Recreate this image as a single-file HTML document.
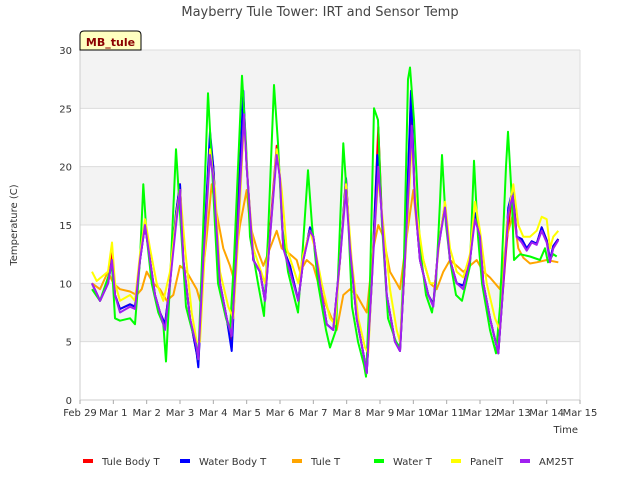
<!DOCTYPE html>
<html><head><meta charset="utf-8"><style>
body{margin:0;background:#fff;}
svg{display:block;font-family:"DejaVu Sans","Liberation Sans",sans-serif;}
</style></head><body>
<svg id="chart" width="640" height="480" viewBox="0 0 640 480" xmlns="http://www.w3.org/2000/svg">
<rect x="0" y="0" width="640" height="480" fill="#fff"/>
<g id="bands"></g>
<g id="grid"></g>
<g id="series"></g>
<g id="axes"></g>
<text x="320" y="16" text-anchor="middle" font-size="13" fill="#444">Mayberry Tule Tower: IRT and Sensor Temp</text>
<text transform="translate(17,225) rotate(-90)" text-anchor="middle" font-size="10" fill="#333">Temperature (C)</text>
<text x="578" y="433" text-anchor="end" font-size="10" fill="#333">Time</text>
<g>
<path d="M80,50 L80,35 Q80,31 84,31 L137,31 Q141,31 141,35 L141,50 Z" fill="#ffffc0" stroke="#000" stroke-width="1"/>
<text x="110.5" y="46" text-anchor="middle" font-size="11" font-weight="bold" fill="#8b0000">MB_tule</text>
</g>
<g id="legend"></g>
</svg>
<script>
const xTicks=["Feb 29","Mar 1","Mar 2","Mar 3","Mar 4","Mar 5","Mar 6","Mar 7","Mar 8","Mar 9","Mar 10","Mar 11","Mar 12","Mar 13","Mar 14","Mar 15"];
const yTicks=[0,5,10,15,20,25,30];
const seriesNames=["Tule Body T","Water Body T","Tule T","Water T","PanelT","AM25T"];
const seriesColors=["#ff0000","#0000ff","#ffa500","#00ff00","#ffff00","#a020f0"];
const waterT=[[0.36,9.5],[0.6,8.5],[0.84,10.5],[0.96,11.5],[1.05,7],[1.2,6.8],[1.5,7],[1.65,6.5],[1.8,12],[1.9,18.5],[2.0,14],[2.15,10],[2.35,7.5],[2.5,6.5],[2.58,3.3],[2.7,10],[2.88,21.5],[3.0,16],[3.18,8],[3.36,6],[3.48,5],[3.55,3.5],[3.66,12],[3.84,26.3],[3.96,20],[4.14,10],[4.38,7],[4.5,6],[4.62,12],[4.86,27.8],[4.98,22],[5.1,14],[5.34,10],[5.52,7.2],[5.64,14],[5.82,27],[5.94,22],[6.06,15],[6.24,11],[6.54,7.5],[6.66,12],[6.84,19.7],[6.96,15],[7.14,10],[7.38,6],[7.5,4.5],[7.68,6],[7.8,15],[7.9,22],[8.04,16],[8.16,8],[8.34,5],[8.52,3],[8.58,2],[8.7,10],[8.82,25],[8.94,24],[9.06,15],[9.24,7],[9.48,5],[9.6,4.5],[9.72,12],[9.84,27.5],[9.9,28.5],[10.02,24],[10.2,13],[10.38,9],[10.56,7.5],[10.68,10],[10.8,17],[10.86,21],[10.98,15],[11.1,12],[11.28,9],[11.46,8.5],[11.7,11.5],[11.82,20.5],[11.94,14],[12.06,10],[12.3,6],[12.48,4],[12.6,8],[12.78,20],[12.84,23],[12.96,17],[13.02,12],[13.2,12.5],[13.5,12.3],[13.8,12],[13.95,13],[14.04,11.8],[14.2,12.5],[14.3,12.3]];
const am25T=[[0.36,10],[0.6,8.5],[0.84,10],[0.96,12],[1.05,9],[1.2,7.5],[1.5,8],[1.65,7.8],[1.8,12],[1.95,15],[2.1,12],[2.25,9],[2.4,7.5],[2.55,6],[2.7,10],[2.88,15],[3.0,18],[3.1,12],[3.3,7],[3.5,4.5],[3.55,3.5],[3.7,12],[3.9,21],[4.0,19],[4.2,10],[4.4,7],[4.55,5.5],[4.7,13],[4.92,24.5],[5.0,20],[5.2,12],[5.4,11],[5.55,8.5],[5.7,14],[5.9,21],[6.0,19],[6.1,13],[6.3,11],[6.55,8.5],[6.7,12],[6.9,14.5],[7.0,14],[7.2,10],[7.4,6.5],[7.6,6],[7.8,12],[7.98,18],[8.1,13],[8.3,7],[8.5,4],[8.6,2.3],[8.75,10],[8.95,20],[9.05,16],[9.2,9],[9.45,5],[9.6,4.2],[9.75,12],[9.95,23.5],[10.05,17],[10.2,12],[10.45,9],[10.6,8],[10.75,13],[10.95,16.5],[11.1,12],[11.3,10],[11.5,9.5],[11.7,12],[11.85,15.5],[12.0,14],[12.1,10],[12.3,7],[12.55,4],[12.65,8],[12.85,16],[12.98,17.5],[13.1,14],[13.25,13.5],[13.4,12.8],[13.55,13.5],[13.7,13.3],[13.85,14.5],[14.0,13.5],[14.1,11.8],[14.2,13],[14.35,13.7]];
const waterBodyT=[[0.36,10],[0.6,8.5],[0.84,10],[0.96,12],[1.05,9],[1.2,7.8],[1.5,8.2],[1.65,8],[1.8,12],[1.95,15],[2.1,12],[2.25,9],[2.4,7.5],[2.55,6.5],[2.7,10],[2.88,16],[3.0,18.5],[3.1,12],[3.3,7],[3.5,4],[3.55,2.8],[3.7,12],[3.9,23],[4.0,20],[4.2,10],[4.4,7],[4.55,4.2],[4.7,13],[4.9,26.5],[5.0,20],[5.2,12],[5.4,11],[5.55,8.5],[5.7,14],[5.9,21.5],[6.0,19],[6.1,13],[6.3,11.5],[6.55,8.5],[6.7,12],[6.9,14.8],[7.0,14],[7.2,10],[7.4,6.5],[7.6,6],[7.8,12],[7.98,19],[8.1,13],[8.3,7],[8.5,4],[8.6,2.3],[8.75,10],[8.92,21],[9.05,16],[9.2,9],[9.45,5],[9.6,4.2],[9.75,12],[9.93,26.5],[10.05,17],[10.2,12],[10.45,9],[10.6,8.2],[10.75,13],[10.95,16.8],[11.1,12],[11.3,10],[11.5,9.8],[11.7,12],[11.85,16],[12.0,14],[12.1,10],[12.3,7],[12.55,4],[12.65,8],[12.85,16.5],[12.98,18],[13.1,14],[13.25,13.8],[13.4,13],[13.55,13.6],[13.7,13.4],[13.85,14.8],[14.0,13.7],[14.1,12],[14.2,13.2],[14.35,13.8]];
const tuleBodyT=[[0.36,10],[0.6,8.5],[0.84,10],[0.96,13],[1.05,9],[1.2,7.8],[1.5,8.2],[1.65,8],[1.8,12],[1.95,15],[2.1,12],[2.25,9],[2.4,7.5],[2.55,6.5],[2.7,10],[2.88,16],[3.0,18.5],[3.1,12],[3.3,7],[3.5,4],[3.55,3],[3.7,12],[3.9,22.5],[4.0,20],[4.2,10],[4.4,7],[4.55,4.5],[4.7,14.5],[4.9,26],[5.0,20],[5.2,12],[5.4,11],[5.55,8.5],[5.7,14.5],[5.9,21.8],[6.0,19],[6.1,13],[6.3,11.5],[6.55,8.5],[6.7,12],[6.9,14.8],[7.0,14],[7.2,10],[7.4,6.5],[7.6,6],[7.8,12],[7.98,19],[8.1,13],[8.3,7],[8.5,4],[8.6,2.3],[8.75,10],[8.95,23.4],[9.05,16],[9.2,9],[9.45,5],[9.6,4.2],[9.75,12],[9.93,26],[10.05,17],[10.2,12],[10.45,9],[10.6,8.2],[10.75,13],[10.95,16.8],[11.1,12],[11.3,10],[11.5,9.8],[11.7,12],[11.85,16],[12.0,14],[12.1,10],[12.3,7],[12.55,4],[12.65,8],[12.8,13.5],[12.98,18.3],[13.1,14],[13.25,13.8],[13.4,13],[13.55,13.6],[13.7,13.4],[13.85,14.8],[14.0,13.7],[14.1,12],[14.2,13.2],[14.35,13.8]];
const tuleT=[[0.36,10],[0.6,9.5],[0.84,11],[1.0,10],[1.2,9.5],[1.5,9.3],[1.7,9],[1.85,9.5],[2.0,11],[2.2,10],[2.4,9.5],[2.6,8.5],[2.8,9],[3.0,11.5],[3.2,11],[3.5,9.5],[3.6,8.5],[3.8,14],[3.95,18.5],[4.1,16],[4.3,13],[4.5,11.5],[4.6,10.5],[4.8,15],[5.0,18],[5.1,15],[5.3,13],[5.5,11.5],[5.7,13],[5.9,14.5],[6.05,13],[6.3,12.5],[6.5,12],[6.6,11],[6.8,12],[7.0,11.5],[7.2,9.5],[7.4,8],[7.7,6],[7.9,9],[8.1,9.5],[8.3,9],[8.5,8],[8.6,7.5],[8.8,13],[8.95,15],[9.1,14],[9.3,11],[9.5,10],[9.6,9.5],[9.8,14],[10.0,18],[10.1,15],[10.3,12],[10.5,10],[10.7,9.5],[10.9,11],[11.1,12],[11.3,11.5],[11.5,11],[11.7,11.5],[11.9,12],[12.1,11],[12.3,10.5],[12.6,9.5],[12.8,14],[13.0,16],[13.15,13],[13.3,12.2],[13.5,11.7],[13.7,11.8],[14.0,12],[14.35,11.8]];
const panelT=[[0.36,11],[0.5,10.2],[0.84,11],[0.96,13.5],[1.05,10],[1.2,8.5],[1.5,9],[1.65,8.5],[1.8,12.5],[1.95,15.5],[2.1,13],[2.3,10],[2.5,8.5],[2.7,11],[2.9,16],[3.0,18],[3.15,13],[3.35,7.5],[3.5,5],[3.6,5],[3.75,13],[3.9,21.5],[4.05,18],[4.2,11],[4.45,8],[4.6,7],[4.75,14],[4.92,24],[5.05,18],[5.2,13],[5.55,10],[5.7,14],[5.9,21.5],[6.05,18],[6.2,13],[6.55,10],[6.7,12.5],[6.9,14.5],[7.05,13],[7.25,10],[7.5,7],[7.65,6.5],[7.8,12],[7.98,18.5],[8.15,12],[8.35,7],[8.55,4.5],[8.65,4],[8.8,13],[8.95,19],[9.1,15],[9.3,9.5],[9.5,6],[9.6,5],[9.8,14],[9.95,22],[10.1,16],[10.3,12],[10.5,10],[10.65,10],[10.8,14],[10.95,17],[11.1,13],[11.3,11],[11.5,10.5],[11.7,12.5],[11.85,17],[12.0,14.5],[12.2,10],[12.45,7],[12.6,6],[12.8,15],[13.0,18.5],[13.15,15],[13.3,14],[13.5,14],[13.7,14.5],[13.85,15.7],[14.0,15.5],[14.1,13],[14.2,14],[14.35,14.5]];
const drawOrder=[[0,tuleBodyT],[1,waterBodyT],[2,tuleT],[3,waterT],[4,panelT],[5,am25T]];

const NS="http://www.w3.org/2000/svg";
const X0=80,X1=580,Y0=400,Y1=50,DAYS=15,YMAX=30;
function xs(d){return X0+(X1-X0)*d/DAYS;}
function ys(v){return Y0-(Y0-Y1)*v/YMAX;}
function mk(tag,attrs,parent){const e=document.createElementNS(NS,tag);for(const k in attrs)e.setAttribute(k,attrs[k]);parent.appendChild(e);return e;}

const bands=document.getElementById('bands');
const pb=mk('rect',{x:X0,y:Y1,width:X1-X0,height:Y0-Y1,fill:'#fff'},bands);


for(let i=0;i<yTicks.length-1;i++){
  if(i%2===1){
    const r=mk('rect',{x:X0,y:ys(yTicks[i+1]),width:X1-X0,height:ys(yTicks[i])-ys(yTicks[i+1]),fill:'#f3f3f3'},bands);
    
    
  }
}
const grid=document.getElementById('grid');
const axes=document.getElementById('axes');
yTicks.forEach(v=>{
  const l=mk('line',{x1:X0,x2:X1,y1:ys(v),y2:ys(v),stroke:'#dcdcdc','stroke-width':1},grid);
  
  
  const t=mk('text',{x:X0-8,y:ys(v)+4,'text-anchor':'end','font-size':10,fill:'#333'},axes);
  t.textContent=v;
  
  
});
mk('line',{x1:X0,x2:X0,y1:Y1,y2:Y0,stroke:'#ccc'},axes);
mk('line',{x1:X1,x2:X1,y1:Y1,y2:Y0,stroke:'#ddd'},axes);
mk('line',{x1:X0,x2:X1,y1:Y0,y2:Y0,stroke:'#ccc'},axes);
xTicks.forEach((lab,i)=>{
  mk('line',{x1:xs(i),x2:xs(i),y1:Y0,y2:Y0+4,stroke:'#aaa'},axes);
  const t=mk('text',{x:xs(i),y:Y0+16,'text-anchor':'middle','font-size':10,fill:'#333'},axes);
  t.textContent=lab;
  
  
});
const sg=document.getElementById('series');
drawOrder.forEach(([idx,data])=>{
  const d=data.map((p,i)=>(i?'L':'M')+xs(p[0]).toFixed(1)+','+ys(p[1]).toFixed(1)).join(' ');
  const p=mk('path',{d:d,fill:'none',stroke:seriesColors[idx],'stroke-width':2,'stroke-linejoin':'round'},sg);
  
  
});
const lg=document.getElementById('legend');
const lx=[83,180,292,374,451,520];
seriesNames.forEach((n,i)=>{
  const g=mk('g',{},lg);
  
  
  mk('rect',{x:lx[i],y:459,width:10,height:4,fill:seriesColors[i]},g);
  const t=mk('text',{x:lx[i]+19,y:465,'font-size':10,fill:'#333'},g);
  t.textContent=n;
});
</script>
</body></html>
